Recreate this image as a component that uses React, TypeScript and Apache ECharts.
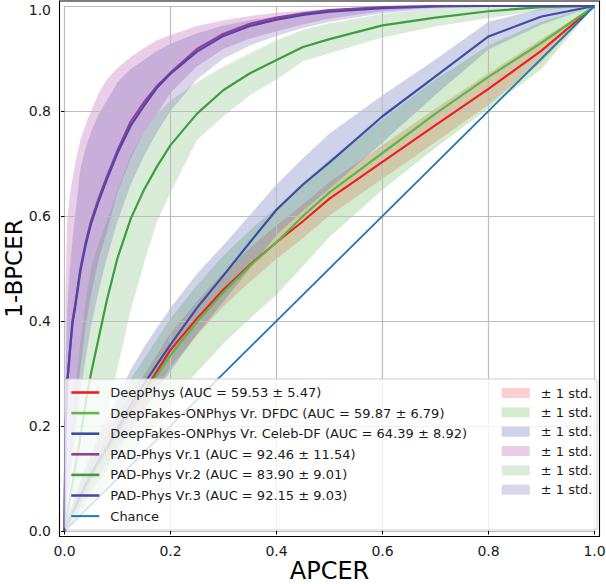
import React, { useEffect, useRef } from "react";
import * as echarts from "echarts";

// APCER grid shared by all curves
const fpr = [0, 0.002, 0.005, 0.01, 0.015, 0.02, 0.03, 0.04, 0.05, 0.065, 0.08, 0.1, 0.125, 0.15, 0.175, 0.2, 0.25, 0.3, 0.35, 0.4, 0.45, 0.5, 0.6, 0.7, 0.8, 0.9, 1];

const deepPhysMean = [0, 0.005, 0.012, 0.025, 0.035, 0.045, 0.065, 0.085, 0.105, 0.13, 0.155, 0.19, 0.23, 0.265, 0.305, 0.345, 0.405, 0.46, 0.507, 0.55, 0.59, 0.633, 0.703, 0.773, 0.842, 0.915, 1];
const deepPhysUpper = [0, 0.008, 0.018, 0.035, 0.048, 0.06, 0.083, 0.105, 0.127, 0.155, 0.182, 0.22, 0.261, 0.297, 0.337, 0.377, 0.437, 0.492, 0.539, 0.582, 0.622, 0.665, 0.735, 0.805, 0.872, 0.937, 1];
const deepPhysLower = [0, 0.002, 0.006, 0.015, 0.022, 0.03, 0.047, 0.065, 0.083, 0.105, 0.128, 0.16, 0.199, 0.233, 0.273, 0.313, 0.373, 0.428, 0.475, 0.518, 0.558, 0.601, 0.671, 0.741, 0.812, 0.893, 1];

const dfdcMean = [0, 0.004, 0.01, 0.02, 0.03, 0.04, 0.06, 0.08, 0.1, 0.125, 0.15, 0.185, 0.225, 0.262, 0.298, 0.335, 0.398, 0.455, 0.505, 0.55, 0.6, 0.645, 0.72, 0.795, 0.865, 0.93, 1];
const dfdcUpper = [0, 0.008, 0.018, 0.034, 0.05, 0.065, 0.092, 0.118, 0.143, 0.175, 0.205, 0.245, 0.289, 0.328, 0.366, 0.405, 0.468, 0.525, 0.573, 0.616, 0.664, 0.707, 0.785, 0.86, 0.925, 0.97, 1];
const dfdcLower = [0, 0, 0.002, 0.005, 0.01, 0.015, 0.027, 0.04, 0.054, 0.07, 0.088, 0.115, 0.147, 0.179, 0.211, 0.245, 0.303, 0.357, 0.405, 0.45, 0.505, 0.56, 0.65, 0.73, 0.805, 0.88, 1];

const celebMean = [0, 0.005, 0.012, 0.025, 0.035, 0.046, 0.067, 0.088, 0.108, 0.135, 0.16, 0.195, 0.24, 0.28, 0.318, 0.355, 0.425, 0.487, 0.55, 0.612, 0.66, 0.702, 0.79, 0.866, 0.942, 0.98, 1];
const celebUpper = [0, 0.009, 0.02, 0.039, 0.053, 0.068, 0.097, 0.124, 0.15, 0.185, 0.216, 0.257, 0.307, 0.35, 0.388, 0.425, 0.49, 0.545, 0.602, 0.66, 0.71, 0.757, 0.83, 0.898, 0.97, 0.995, 1];
const celebLower = [0, 0.001, 0.004, 0.011, 0.017, 0.024, 0.039, 0.056, 0.072, 0.095, 0.117, 0.149, 0.192, 0.23, 0.268, 0.305, 0.375, 0.437, 0.5, 0.564, 0.61, 0.652, 0.74, 0.831, 0.917, 0.965, 1];

const pad1Mean = [0, 0.2, 0.28, 0.34, 0.4, 0.43, 0.5, 0.55, 0.59, 0.635, 0.675, 0.725, 0.78, 0.817, 0.848, 0.873, 0.918, 0.947, 0.966, 0.978, 0.986, 0.992, 0.998, 1, 1, 1, 1];
const pad1Upper = [0, 0.45, 0.59, 0.64, 0.67, 0.7, 0.745, 0.775, 0.8, 0.835, 0.86, 0.882, 0.903, 0.92, 0.935, 0.945, 0.962, 0.973, 0.981, 0.987, 0.991, 0.994, 0.999, 1, 1, 1, 1];
const pad1Lower = [0, 0.03, 0.06, 0.11, 0.16, 0.22, 0.31, 0.39, 0.45, 0.52, 0.57, 0.645, 0.71, 0.76, 0.795, 0.835, 0.885, 0.918, 0.938, 0.952, 0.965, 0.976, 0.99, 0.997, 1, 1, 1];

const pad2Mean = [0, 0.01, 0.03, 0.06, 0.09, 0.12, 0.18, 0.245, 0.3, 0.37, 0.44, 0.52, 0.595, 0.65, 0.695, 0.735, 0.795, 0.84, 0.872, 0.897, 0.922, 0.937, 0.963, 0.978, 0.99, 0.998, 1];
const pad2Upper = [0, 0.03, 0.07, 0.15, 0.21, 0.27, 0.36, 0.44, 0.5, 0.55, 0.59, 0.65, 0.715, 0.76, 0.795, 0.82, 0.855, 0.885, 0.91, 0.935, 0.955, 0.967, 0.985, 0.995, 1, 1, 1];
const pad2Lower = [0, 0, 0.005, 0.01, 0.02, 0.03, 0.05, 0.08, 0.11, 0.16, 0.22, 0.31, 0.42, 0.51, 0.59, 0.645, 0.745, 0.79, 0.83, 0.86, 0.895, 0.91, 0.94, 0.961, 0.977, 0.992, 1];

const pad3Mean = [0, 0.2, 0.28, 0.34, 0.395, 0.425, 0.495, 0.545, 0.585, 0.63, 0.67, 0.72, 0.772, 0.81, 0.845, 0.871, 0.913, 0.943, 0.962, 0.974, 0.983, 0.989, 0.996, 0.999, 1, 1, 1];
const pad3Upper = [0, 0.3, 0.42, 0.5, 0.555, 0.6, 0.69, 0.73, 0.76, 0.795, 0.82, 0.855, 0.88, 0.897, 0.915, 0.928, 0.948, 0.963, 0.973, 0.98, 0.986, 0.99, 0.997, 1, 1, 1, 1];
const pad3Lower = [0, 0.02, 0.05, 0.09, 0.13, 0.18, 0.26, 0.33, 0.39, 0.46, 0.52, 0.59, 0.66, 0.715, 0.76, 0.8, 0.86, 0.9, 0.925, 0.943, 0.958, 0.97, 0.986, 0.995, 1, 1, 1];

const chanceX = [0, 1];
const chanceY = [0, 1];

const lineNames = [
  "DeepPhys (AUC = 59.53 ± 5.47)",
  "DeepFakes-ONPhys Vr. DFDC (AUC = 59.87 ± 6.79)",
  "DeepFakes-ONPhys Vr. Celeb-DF (AUC = 64.39 ± 8.92)",
  "PAD-Phys Vr.1 (AUC = 92.46 ± 11.54)",
  "PAD-Phys Vr.2 (AUC = 83.90 ± 9.01)",
  "PAD-Phys Vr.3 (AUC = 92.15 ± 9.03)",
];
const chanceName = "Chance";
const stdLabel = "± 1 std.";
const topTickLabel = "1.0";

const lineColors = ["#f01e1e", "#5cb845", "#3a4ea6", "#9b3b99", "#3d9e3d", "#5046a8"];
const chanceColor = "#1f77b4";
const bandColors = [
  "rgba(240,30,30,0.22)",
  "rgba(92,184,69,0.27)",
  "rgba(58,78,166,0.25)",
  "rgba(170,60,160,0.25)",
  "rgba(61,158,61,0.2)",
  "rgba(80,70,168,0.22)",
];

const means = [deepPhysMean, dfdcMean, celebMean, pad1Mean, pad2Mean, pad3Mean];
const uppers = [deepPhysUpper, dfdcUpper, celebUpper, pad1Upper, pad2Upper, pad3Upper];
const lowers = [deepPhysLower, dfdcLower, celebLower, pad1Lower, pad2Lower, pad3Lower];

const FONT = "DejaVu Sans";

const App = () => {
  const chartRef = useRef<HTMLDivElement>(null);

  useEffect(() => {
    // @ts-ignore
    const chart = echarts.init(chartRef.current, null, { renderer: "svg" });

    const bandNames = bandColors.map((_, i) => "band" + i);

    // each ±1 std band is one polygon: upper edge forward, lower edge back
    const bandSeries: any[] = uppers.map((up, i) => ({
      name: bandNames[i],
      type: "custom",
      data: fpr.map((x, k) => [x, up[k], lowers[i][k]]),
      encode: { x: 0, y: [1, 2] },
      color: bandColors[i],
      silent: true,
      z: 0,
      renderItem: (params: any, api: any) => {
        if (params.dataIndex !== 0) return null;
        const pts: number[][] = [];
        for (let k = 0; k < fpr.length; k++) pts.push(api.coord([fpr[k], up[k]]));
        for (let k = fpr.length - 1; k >= 0; k--) pts.push(api.coord([fpr[k], lowers[i][k]]));
        return {
          type: "polygon",
          shape: { points: pts },
          style: { fill: bandColors[i], stroke: "none" },
        };
      },
    }));

    const lineSeries: any[] = means.map((m, i) => ({
      name: lineNames[i],
      type: "line",
      data: fpr.map((x, k) => [x, m[k]]),
      symbol: "none",
      color: lineColors[i],
      lineStyle: { width: 2.2, color: lineColors[i] },
      z: 2,
    }));
    lineSeries.push({
      name: chanceName,
      type: "line",
      data: chanceX.map((x, k) => [x, chanceY[k]]),
      symbol: "none",
      color: chanceColor,
      lineStyle: { width: 1.8, color: chanceColor },
      z: 2,
    });

    const axisCommon = {
      type: "value",
      min: 0,
      max: 1,
      interval: 0.2,
      offset: 5.5,
      z: 1,
      nameMoveOverlap: false,
      axisLine: { show: false },
      axisTick: { show: true, length: 3.5, lineStyle: { color: "#000", width: 1 } },
      splitLine: { show: true, lineStyle: { color: "#bdbdbd", width: 1.2 } },
    };

    const options = {
      animation: false,
      grid: { left: 64.5, top: 6, width: 530, height: 525, containLabel: false, outerBoundsMode: "none" },
      xAxis: {
        ...axisCommon,
        name: "APCER",
        nameLocation: "middle",
        nameGap: 22,
        nameTextStyle: { fontFamily: FONT, fontSize: 24, color: "#000" },
        axisLabel: {
          margin: 7,
          fontFamily: FONT,
          fontSize: 14,
          color: "#1a1a1a",
          formatter: (v: number) => v.toFixed(1),
        },
      },
      yAxis: {
        ...axisCommon,
        name: "1-BPCER",
        nameLocation: "middle",
        nameGap: 35,
        nameTextStyle: { fontFamily: FONT, fontSize: 23, lineHeight: 20, color: "#000" },
        axisLabel: {
          margin: 8,
          showMaxLabel: false,
          fontFamily: FONT,
          fontSize: 14,
          color: "#1a1a1a",
          formatter: (v: number) => v.toFixed(1),
        },
      },
      legend: [
        {
          orient: "vertical",
          left: 70,
          top: 386,
          padding: 0,
          itemWidth: 28,
          itemHeight: 14,
          itemGap: 7.6,
          selectedMode: false,
          itemStyle: { opacity: 0 },
          data: [
            ...lineNames.map((n) => ({ name: n, lineStyle: { width: 2.6 } })),
            { name: chanceName, lineStyle: { width: 2 } },
          ],
          textStyle: { fontFamily: FONT, fontSize: 13, color: "#1a1a1a", padding: [0, 0, 0, 6] },
        },
        {
          orient: "vertical",
          left: 501.7,
          top: 386,
          padding: 0,
          itemWidth: 28,
          itemHeight: 10,
          itemGap: 5.35,
          selectedMode: false,
          formatter: () => stdLabel,
          data: bandNames.map((n, i) => ({
            name: n,
            icon: "rect",
            itemStyle: { color: bandColors[i], opacity: 1 },
          })),
          textStyle: { fontFamily: FONT, fontSize: 13, color: "#1a1a1a", padding: [0, 0, 0, 6], lineHeight: 14 },
        },
      ],
      graphic: [
        {
          type: "rect",
          z: 3,
          shape: { x: 65, y: 379, width: 532, height: 151, r: 3 },
          style: { fill: "rgba(255,255,255,0.8)", stroke: "#d0d0d0", lineWidth: 1 },
          silent: true,
        },
        {
          type: "rect",
          z: 3,
          shape: { x: 59.5, y: 1, width: 540, height: 535.5 },
          style: { fill: "none", stroke: "#000", lineWidth: 1.1 },
          silent: true,
        },
        {
          // top y tick label, nudged down so it stays inside the canvas
          type: "text",
          z: 3,
          x: 51,
          y: 9.5,
          silent: true,
          style: {
            text: topTickLabel,
            fontFamily: FONT,
            fontSize: 14,
            fill: "#1a1a1a",
            align: "right",
            verticalAlign: "middle",
          },
        },
      ],
      series: [...bandSeries, ...lineSeries],
    };

    chart.setOption(options);

    return () => {
      chart.dispose();
    };
  }, []);

  return <div ref={chartRef} style={{ position: "absolute", left: 0, top: 0, width: 606, height: 584 }} />;
};

export default App;
